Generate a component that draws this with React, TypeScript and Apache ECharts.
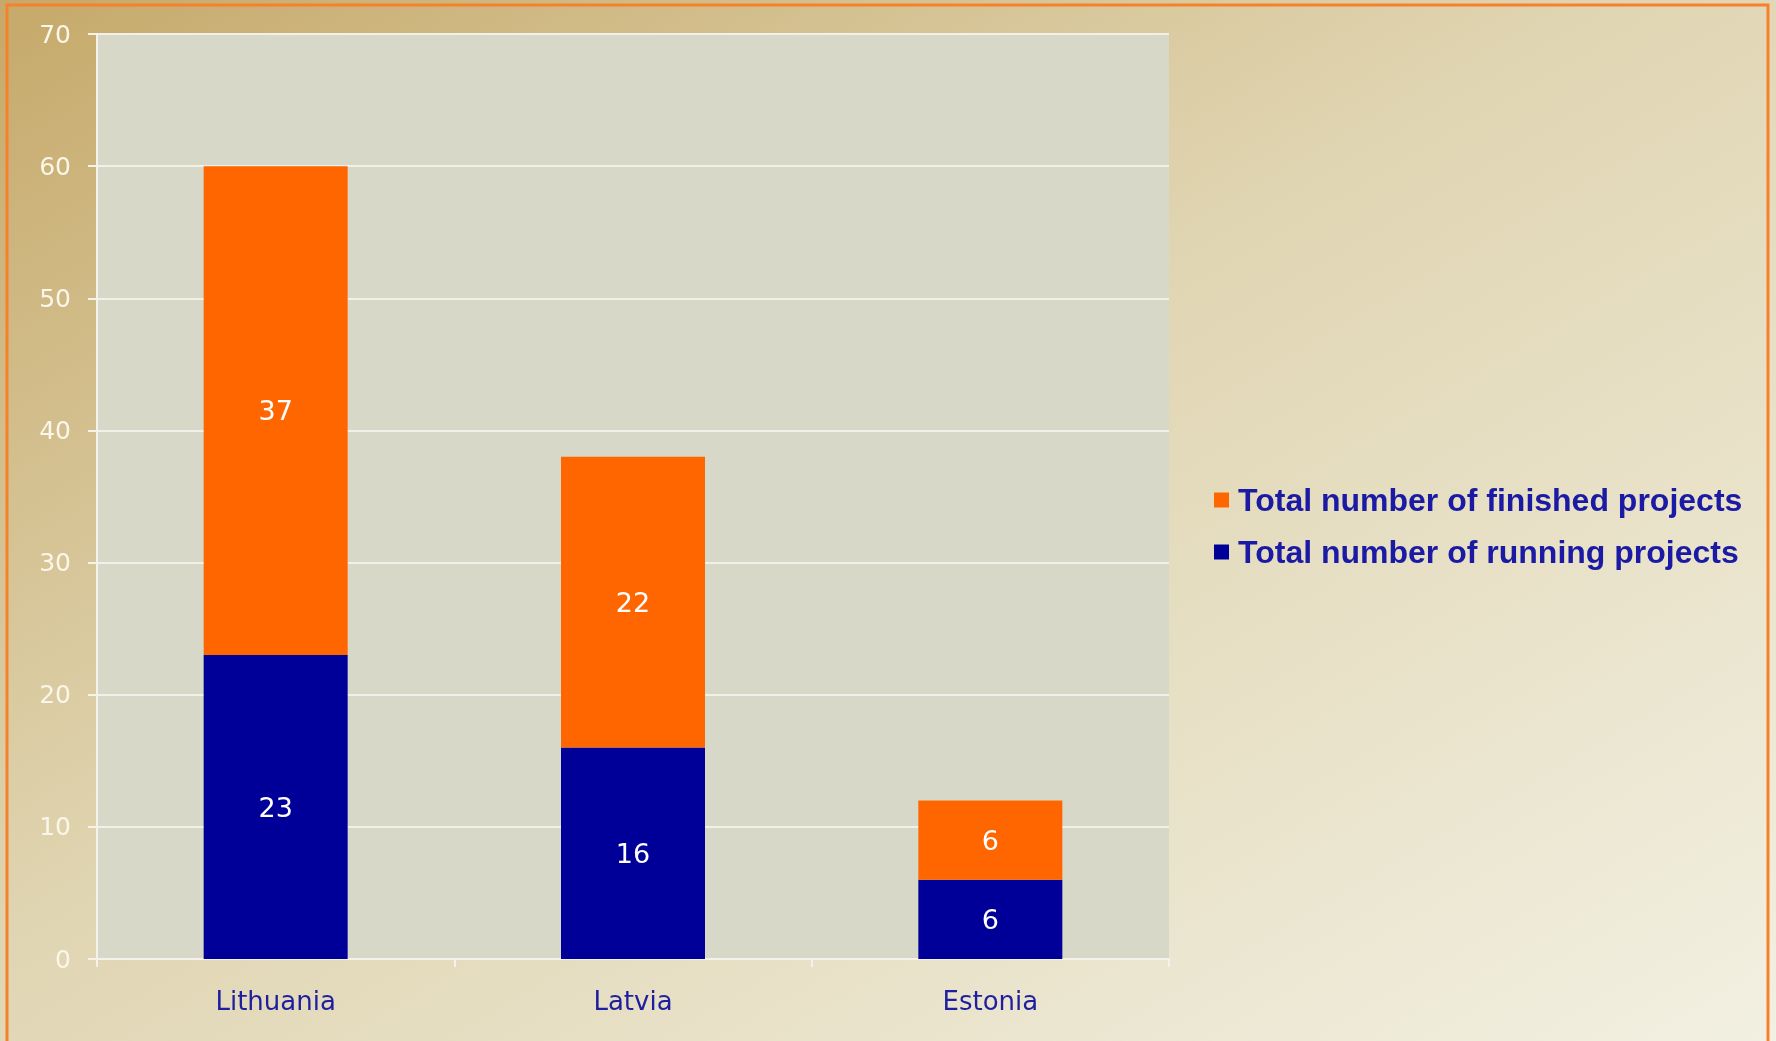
import React, { useEffect, useRef } from "react";
import * as echarts from "echarts";

const categories = ["Lithuania", "Latvia", "Estonia"];
const runningProjects = [23, 16, 6];
const finishedProjects = [37, 22, 6];
const seriesNames = ["Total number of finished projects", "Total number of running projects"];

export default function App() {
  const ref = useRef<HTMLDivElement>(null);
  useEffect(() => {
    if (!ref.current) return;
    const chart = echarts.init(ref.current, null, { renderer: "svg" });
    const barLabel = {
      show: true,
      position: "inside",
      color: "#ffffff",
      fontFamily: "DejaVu Sans",
      fontSize: 27,
    };
    chart.setOption({
      animation: false,
      graphic: [
        {
          type: "rect",
          z: -10,
          silent: true,
          shape: { x: 0, y: 0, width: 1776, height: 1041 },
          style: {
            fill: new echarts.graphic.LinearGradient(0, 0, 1, 1, [
              { offset: 0, color: "#c6a96a" },
              { offset: 0.45, color: "#e0d5b2" },
              { offset: 1, color: "#f2f0e2" },
            ]),
          },
        },
        {
          type: "rect",
          z: 100,
          silent: true,
          shape: { x: 7, y: 5, width: 1761, height: 1100 },
          style: { fill: "none", stroke: "#f7812a", lineWidth: 3 },
        },
      ],
      grid: {
        left: 97,
        top: 34,
        width: 1072,
        height: 925,
        show: true,
        backgroundColor: "#d8d8c9",
        borderWidth: 0,
      },
      legend: {
        orient: "vertical",
        left: 1209,
        top: 479,
        itemWidth: 15,
        itemHeight: 15,
        itemGap: 20,
        icon: "rect",
        data: seriesNames,
        textStyle: {
          color: "#1a1aa4",
          fontFamily: "Liberation Sans",
          fontWeight: "bold",
          fontSize: 32,
          padding: [0, 0, 0, 4],
        },
      },
      xAxis: {
        type: "category",
        data: categories,
        axisLine: { show: true, lineStyle: { color: "#f4f2ea", width: 2 } },
        axisTick: { show: true, length: 8, lineStyle: { color: "#f4f2ea", width: 2 } },
        axisLabel: {
          color: "#1e1ea0",
          fontFamily: "DejaVu Sans",
          fontSize: 26,
          margin: 29,
        },
      },
      yAxis: {
        type: "value",
        min: 0,
        max: 70,
        interval: 10,
        axisLine: { show: true, lineStyle: { color: "#f4f2ea", width: 2 } },
        axisTick: { show: true, length: 9, lineStyle: { color: "#f4f2ea", width: 2 } },
        axisLabel: {
          color: "#faf6ea",
          fontFamily: "DejaVu Sans",
          fontSize: 25,
          margin: 26,
        },
        splitLine: { show: true, lineStyle: { color: "#f1f1ea", width: 2 } },
      },
      series: [
        {
          name: seriesNames[1],
          type: "bar",
          stack: "total",
          data: runningProjects,
          barWidth: 144,
          itemStyle: { color: "#000099" },
          label: barLabel,
        },
        {
          name: seriesNames[0],
          type: "bar",
          stack: "total",
          data: finishedProjects,
          barWidth: 144,
          itemStyle: { color: "#ff6600" },
          label: barLabel,
        },
      ],
    });
    return () => chart.dispose();
  }, []);
  return (
    <div
      ref={ref}
      style={{ position: "fixed", left: 0, top: 0, width: 1776, height: 1041 }}
    />
  );
}
